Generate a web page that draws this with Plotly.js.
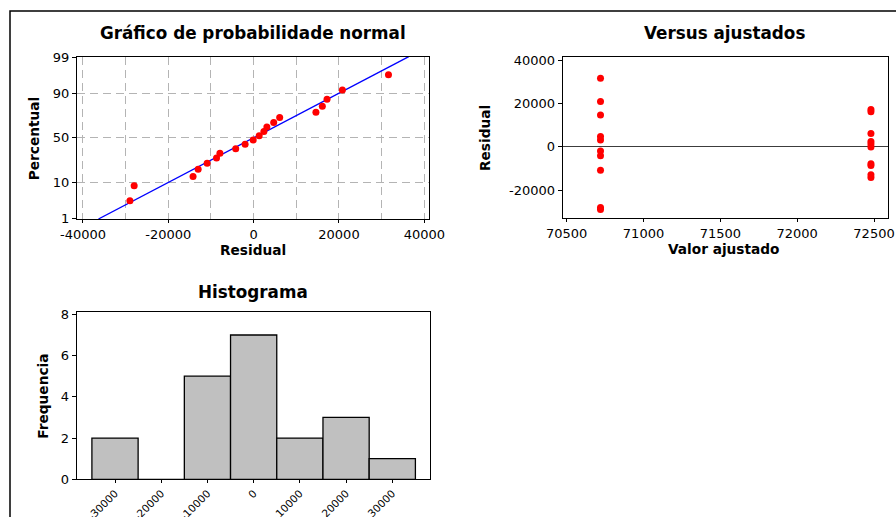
<!DOCTYPE html>
<html>
<head>
<meta charset="utf-8">
<script src="https://cdn.plot.ly/plotly-3.0.1.min.js"></script>
<style>
  html, body { margin: 0; padding: 0; background: #ffffff; }
  #chart { width: 896px; height: 517px; }
</style>
</head>
<body>
<div id="chart"></div>
<script>
// ---------------- data ----------------
// fitted values (two groups) and their residuals
const fittedValues = [70720, 70720, 70720, 70720, 70720, 70720, 70720, 70720, 70720, 70720,
                      72480, 72480, 72480, 72480, 72480, 72480, 72480, 72480, 72480, 72480];
const residuals = [31600, 20800, 14600, 4700, 3100, -2000, -4200, -10900, -28000, -29000,
                   17200, 16100, 6100, 2400, 1300, -100, -7900, -8700, -13000, -14200];
// plotting percentages (normal probability plot, ascending order of residuals)
const probPercent = [3.4, 8.3, 13.2, 18.1, 23.0, 27.9, 32.8, 37.7, 42.6, 47.5,
                     52.5, 57.4, 62.3, 67.2, 72.1, 77.0, 81.9, 86.8, 91.7, 96.6];
// histogram of residuals
const histCenters = [-30000, -20000, -10000, 0, 10000, 20000, 30000];
const histCounts = [2, 0, 5, 7, 2, 3, 1];
// tick labels
const probTickPercent = [1, 10, 50, 90, 99];
const probResTicks = [-40000, -20000, 0, 20000, 40000];
const probResMinorGrid = [-30000, -10000, 10000, 30000];
const fitTicks = [70500, 71000, 71500, 72000, 72500];
const resTicks = [-20000, 0, 20000, 40000];
const freqTicks = [0, 2, 4, 6, 8];

// ---------------- helpers ----------------
function probit(p) {
  const a = [-3.969683028665376e+01, 2.209460984245205e+02, -2.759285104469687e+02, 1.383577518672690e+02, -3.066479806614716e+01, 2.506628277459239e+00];
  const b = [-5.447609879822406e+01, 1.615858368580409e+02, -1.556989798598866e+02, 6.680131188771972e+01, -1.328068155288572e+01];
  const c = [-7.784894002430293e-03, -3.223964580411365e-01, -2.400758277161838e+00, -2.549732539343734e+00, 4.374664141464968e+00, 2.938163982698783e+00];
  const d = [7.784695709041462e-03, 3.224671290700398e-01, 2.445134137142996e+00, 3.754408661907416e+00];
  const pl = 0.02425, ph = 1 - pl;
  let q, r;
  if (p < pl) {
    q = Math.sqrt(-2 * Math.log(p));
    return (((((c[0]*q+c[1])*q+c[2])*q+c[3])*q+c[4])*q+c[5]) / ((((d[0]*q+d[1])*q+d[2])*q+d[3])*q+1);
  }
  if (p <= ph) {
    q = p - 0.5; r = q*q;
    return (((((a[0]*r+a[1])*r+a[2])*r+a[3])*r+a[4])*r+a[5])*q / (((((b[0]*r+b[1])*r+b[2])*r+b[3])*r+b[4])*r+1);
  }
  q = Math.sqrt(-2 * Math.log(1 - p));
  return -(((((c[0]*q+c[1])*q+c[2])*q+c[3])*q+c[4])*q+c[5]) / ((((d[0]*q+d[1])*q+d[2])*q+d[3])*q+1);
}

const sortedRes = residuals.slice().sort((u, v) => u - v);
const n = residuals.length;
const mean = residuals.reduce((s, v) => s + v, 0) / n;
const sd = Math.sqrt(residuals.reduce((s, v) => s + (v - mean) * (v - mean), 0) / (n - 1));
const zLimits = [-2.35, 2.35];
const fitLineX = zLimits.map(z => mean + z * sd);

// ---------------- layout geometry (pixels -> paper) ----------------
const W = 896, H = 517;
const px = v => v / W;
const py = v => 1 - v / H;

const FONT = 'DejaVu Sans, Verdana, sans-serif';
const tickFont = { family: FONT, size: 13, color: '#000000' };
const gridCol = '#B4B4B4';
const gridDash = '8px,5px';

const traces = [
  // normal probability plot
  {
    x: fitLineX, y: zLimits, xaxis: 'x', yaxis: 'y', type: 'scatter', mode: 'lines',
    line: { color: '#0000FF', width: 1.3 }, hoverinfo: 'skip', showlegend: false
  },
  {
    x: sortedRes, y: probPercent.map(p => probit(p / 100)), xaxis: 'x', yaxis: 'y',
    type: 'scatter', mode: 'markers', marker: { color: '#FF0000', size: 7 }, showlegend: false
  },
  // versus fits
  {
    x: fittedValues, y: residuals, xaxis: 'x2', yaxis: 'y2', type: 'scatter', mode: 'markers',
    marker: { color: '#FF0000', size: 7 }, showlegend: false
  },
  // histogram
  {
    x: histCenters, y: histCounts, xaxis: 'x3', yaxis: 'y3', type: 'bar', width: 10000,
    marker: { color: '#C0C0C0', line: { color: '#000000', width: 1.3 } }, showlegend: false
  }
];

const frame = { showline: true, mirror: true, linecolor: '#000000', linewidth: 1, zeroline: false,
                ticks: 'outside', ticklen: 4, tickcolor: '#000000', tickfont: tickFont };

const layout = {
  width: W, height: H,
  margin: { l: 0, r: 0, t: 0, b: 0 },
  paper_bgcolor: '#ffffff', plot_bgcolor: '#ffffff',
  font: { family: FONT, size: 13, color: '#000000' },
  bargap: 0,
  showlegend: false,
  xaxis: Object.assign({}, frame, {
    domain: [px(77), px(429)], anchor: 'y', range: [-41400, 41100], ticklen: 3,
    tickmode: 'array', tickvals: probResTicks, ticktext: probResTicks.map(String),
    showgrid: true, gridcolor: gridCol, griddash: gridDash, gridwidth: 1,
    minor: { tickmode: 'array', tickvals: probResMinorGrid, showgrid: true, gridcolor: gridCol,
             griddash: gridDash, gridwidth: 1, ticks: '' }
  }),
  yaxis: Object.assign({}, frame, {
    domain: [py(219), py(56.7)], anchor: 'x', range: zLimits,
    tickmode: 'array', tickvals: probTickPercent.map(p => probit(p / 100)), ticktext: probTickPercent.map(String),
    showgrid: true, gridcolor: gridCol, griddash: gridDash, gridwidth: 1
  }),
  xaxis2: Object.assign({}, frame, {
    domain: [px(562.7), px(888.3)], anchor: 'y2', range: [70474, 72593], ticklen: 3,
    tickmode: 'array', tickvals: fitTicks, ticktext: fitTicks.map(String), showgrid: false
  }),
  yaxis2: Object.assign({}, frame, {
    domain: [py(218.3), py(57.3)], anchor: 'x2', range: [-33040, 41250],
    tickmode: 'array', tickvals: resTicks, ticktext: resTicks.map(String), showgrid: false,
    zeroline: true, zerolinecolor: '#3C3C3C', zerolinewidth: 1
  }),
  xaxis3: Object.assign({}, frame, {
    domain: [px(76.7), px(430)], anchor: 'y3', range: [-38290, 38160], ticklen: 3,
    tickmode: 'array', tickvals: histCenters, ticktext: histCenters.map(String),
    tickangle: -45, showgrid: false, tickfont: { family: FONT, size: 10.5, color: '#000000' }
  }),
  yaxis3: Object.assign({}, frame, {
    domain: [py(479.3), py(311.7)], anchor: 'x3', range: [0, 8.13],
    tickmode: 'array', tickvals: freqTicks, ticktext: freqTicks.map(String), showgrid: false
  }),
  shapes: [
    { type: 'rect', xref: 'paper', yref: 'paper', x0: px(10), x1: 1.05, y0: -0.05, y1: py(11),
      line: { color: '#000000', width: 1.5 }, fillcolor: 'rgba(0,0,0,0)', layer: 'below' }
  ],
  annotations: [
    // panel titles
    { text: '<b>Gráfico de probabilidade normal</b>', xref: 'paper', yref: 'paper', x: px(253), y: py(33.5),
      showarrow: false, xanchor: 'center', yanchor: 'middle', font: { family: FONT, size: 16.8, color: '#000' } },
    { text: '<b>Versus ajustados</b>', xref: 'paper', yref: 'paper', x: px(724), y: py(33),
      showarrow: false, xanchor: 'center', yanchor: 'middle', font: { family: FONT, size: 16.8, color: '#000' } },
    { text: '<b>Histograma</b>', xref: 'paper', yref: 'paper', x: px(253), y: py(291.7),
      showarrow: false, xanchor: 'center', yanchor: 'middle', font: { family: FONT, size: 16.8, color: '#000' } },
    // axis titles
    { text: '<b>Residual</b>', xref: 'paper', yref: 'paper', x: px(253), y: py(250),
      showarrow: false, xanchor: 'center', yanchor: 'middle', font: { family: FONT, size: 13.7, color: '#000' } },
    { text: '<b>Percentual</b>', xref: 'paper', yref: 'paper', x: px(34.3), y: py(139),
      showarrow: false, xanchor: 'center', yanchor: 'middle', textangle: -90, font: { family: FONT, size: 13.7, color: '#000' } },
    { text: '<b>Valor ajustado</b>', xref: 'paper', yref: 'paper', x: px(724), y: py(249),
      showarrow: false, xanchor: 'center', yanchor: 'middle', font: { family: FONT, size: 13.7, color: '#000' } },
    { text: '<b>Residual</b>', xref: 'paper', yref: 'paper', x: px(485), y: py(138),
      showarrow: false, xanchor: 'center', yanchor: 'middle', textangle: -90, font: { family: FONT, size: 13.7, color: '#000' } },
    { text: '<b>Frequencia</b>', xref: 'paper', yref: 'paper', x: px(43), y: py(396.7),
      showarrow: false, xanchor: 'center', yanchor: 'middle', textangle: -90, font: { family: FONT, size: 13.7, color: '#000' } }
  ]
};

Plotly.newPlot('chart', traces, layout, { staticPlot: true, displayModeBar: false });
</script>
</body>
</html>
